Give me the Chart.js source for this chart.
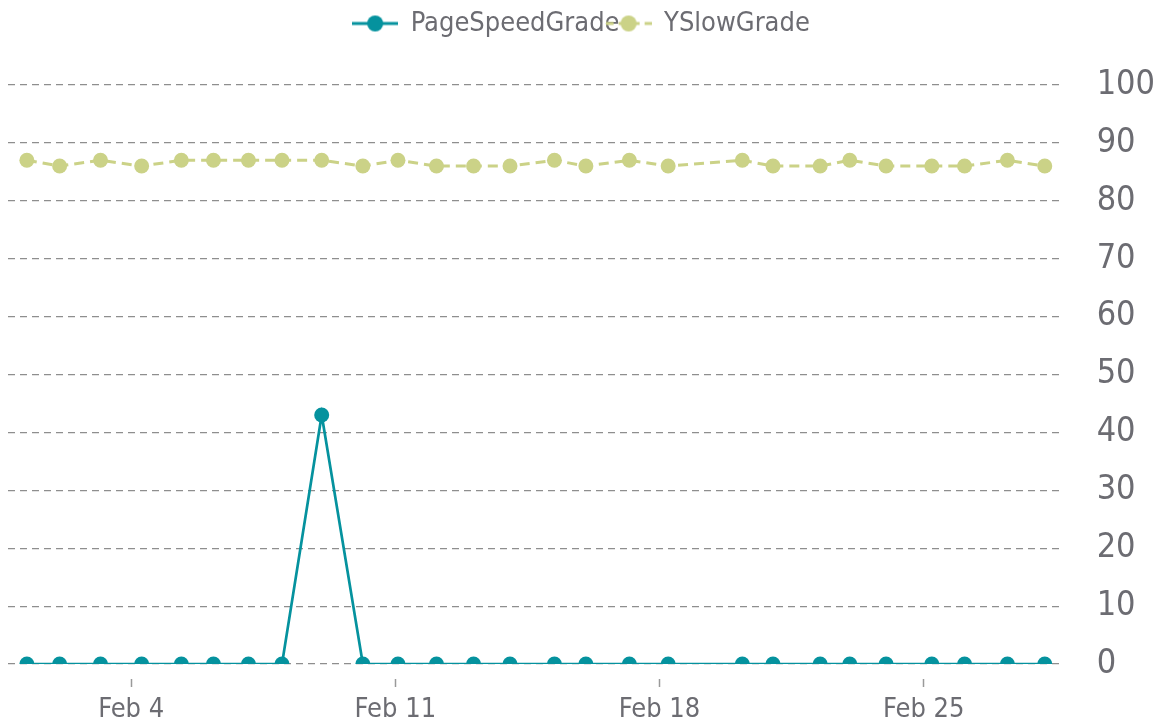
<!DOCTYPE html>
<html>
<head>
<meta charset="utf-8">
<script src="https://cdn.jsdelivr.net/npm/chart.js@4/dist/chart.umd.min.js"></script>
<style>
  html, body { margin: 0; padding: 0; background: #fff; }
  #wrap { width: 1162px; height: 725px; }
</style>
</head>
<body>
<div id="wrap"><canvas id="gradeChart" width="1162" height="725"></canvas></div>
<script>
// sample times (UTC)
const sampleTimes = [
  '2014-02-01T05:40', '2014-02-02T02:30', '2014-02-03T04:30', '2014-02-04T06:40',
  '2014-02-05T07:55', '2014-02-06T04:20', '2014-02-07T02:35', '2014-02-07T23:55',
  '2014-02-09T01:10', '2014-02-10T03:20', '2014-02-11T01:40', '2014-02-12T02:10',
  '2014-02-13T01:45', '2014-02-14T00:55', '2014-02-15T05:10', '2014-02-16T01:10',
  '2014-02-17T04:50', '2014-02-18T05:30', '2014-02-20T04:40', '2014-02-21T00:10',
  '2014-02-22T06:10', '2014-02-23T01:00', '2014-02-24T00:05', '2014-02-25T05:10',
  '2014-02-26T02:00', '2014-02-27T05:15', '2014-02-28T05:00'
];
const pageSpeedGrade = [0, 0, 0, 0, 0, 0, 0, 0, 43, 0, 0, 0, 0, 0, 0, 0, 0, 0, 0, 0, 0, 0, 0, 0, 0, 0, 0];
const ySlowGrade = [87, 86, 87, 86, 87, 87, 87, 87, 87, 86, 87, 86, 86, 86, 87, 86, 87, 86, 87, 86, 86, 87, 86, 86, 86, 87, 86];
const xTickDates = ['2014-02-04T00:00', '2014-02-11T00:00', '2014-02-18T00:00', '2014-02-25T00:00'];
const yTicks = [0, 10, 20, 30, 40, 50, 60, 70, 80, 90, 100];
const months = ['Jan', 'Feb', 'Mar', 'Apr', 'May', 'Jun', 'Jul', 'Aug', 'Sep', 'Oct', 'Nov', 'Dec'];

const DAY = 86400000;
const origin = Date.parse('2014-02-04T00:00:00Z');
const toDays = s => (Date.parse(s + ':00Z') - origin) / DAY;
const xs = sampleTimes.map(toDays);

const teal = '#05929e';
const olive = '#cbd287';
const textGrey = '#6c6c72';
const gridGrey = '#8e8e8e';
const FONT = "'DejaVu Sans Condensed', 'DejaVu Sans', sans-serif";

// legend symbol: short line with a dot in the middle
function legendIcon(color, dash) {
  const c = document.createElement('canvas');
  c.width = 46; c.height = 18;
  const g = c.getContext('2d');
  g.strokeStyle = color;
  g.lineWidth = 3;
  g.setLineDash(dash);
  g.beginPath(); g.moveTo(0, 9); g.lineTo(46, 9); g.stroke();
  g.fillStyle = color;
  g.beginPath(); g.arc(23, 9, 8, 0, Math.PI * 2); g.fill();
  return c;
}

// extra room below the legend, and no clipping so the tight item spacing can work
const legendSpacer = {
  id: 'legendSpacer',
  beforeInit(chart) {
    const legend = chart.legend;
    const fit = legend.fit;
    legend.fit = function () {
      fit.bind(legend)();
      this.height += 38;
    };
    legend.draw = function () {
      if (this.options.display) this._draw();
    };
  }
};

const ctx = document.getElementById('gradeChart').getContext('2d');
new Chart(ctx, {
  type: 'line',
  data: {
    datasets: [{
      label: 'PageSpeedGrade',
      data: xs.map((x, i) => ({ x: x, y: pageSpeedGrade[i] })),
      borderColor: teal,
      backgroundColor: teal,
      borderWidth: 2.7,
      pointRadius: 7.5,
      pointBorderWidth: 0,
      pointBackgroundColor: teal,
      tension: 0,
      legendIcon: legendIcon(teal, [])
    }, {
      label: 'YSlowGrade',
      data: xs.map((x, i) => ({ x: x, y: ySlowGrade[i] })),
      borderColor: olive,
      backgroundColor: olive,
      borderWidth: 3,
      borderDash: [10, 6],
      pointRadius: 7.5,
      pointBorderWidth: 0,
      pointBackgroundColor: olive,
      tension: 0,
      legendIcon: legendIcon(olive, [8, 5])
    }]
  },
  options: {
    responsive: false,
    animation: false,
    layout: { padding: { top: 23, left: 8, right: 7, bottom: 0 } },
    plugins: {
      tooltip: { enabled: false },
      legend: {
        position: 'top',
        labels: {
          usePointStyle: true,
          pointStyleWidth: 44,
          padding: -13,
          color: textGrey,
          font: { family: FONT, size: 27 },
          generateLabels(chart) {
            return chart.data.datasets.map((ds, i) => ({
              text: ds.label,
              pointStyle: ds.legendIcon,
              fillStyle: ds.borderColor,
              strokeStyle: ds.borderColor,
              fontColor: textGrey,
              lineWidth: 0,
              hidden: false,
              datasetIndex: i
            }));
          }
        }
      }
    },
    scales: {
      x: {
        type: 'linear',
        min: xs[0] - 0.5,
        max: xs[xs.length - 1] + 0.5,
        afterBuildTicks: axis => { axis.ticks = xTickDates.map(s => ({ value: toDays(s) })); },
        afterFit: axis => { axis.height = 61; },
        border: { display: false },
        grid: {
          drawOnChartArea: false,
          drawTicks: true,
          tickLength: 23,
          tickColor: '#9a9a9a',
          tickWidth: 1.5,
          tickBorderDash: [0, 15, 8, 100]
        },
        ticks: {
          maxRotation: 0,
          padding: 7,
          color: textGrey,
          font: { family: FONT, size: 27 },
          callback: v => {
            const d = new Date(origin + v * DAY);
            return months[d.getUTCMonth()] + ' ' + d.getUTCDate();
          }
        }
      },
      y: {
        position: 'right',
        min: yTicks[0],
        max: yTicks[yTicks.length - 1],
        afterBuildTicks: axis => { axis.ticks = yTicks.map(v => ({ value: v })); },
        afterFit: axis => { axis.width -= 33; },
        border: { display: false, dash: [7, 5] },
        grid: {
          color: gridGrey,
          lineWidth: 1.2,
          drawTicks: false
        },
        ticks: {
          padding: 33,
          color: textGrey,
          font: { family: FONT, size: 34 }
        }
      }
    }
  },
  plugins: [legendSpacer]
});
</script>
</body>
</html>
